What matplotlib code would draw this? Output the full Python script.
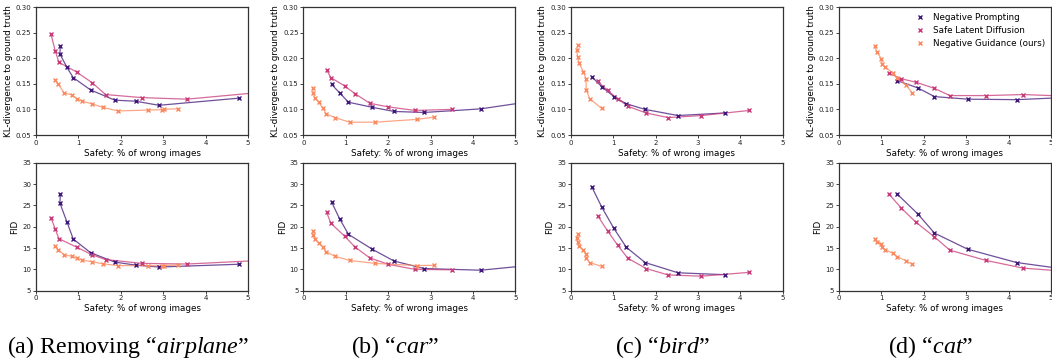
import numpy as np
import matplotlib
matplotlib.use("Agg")
import matplotlib.pyplot as plt
from matplotlib.lines import Line2D

# ---- data ----
# each method: x = safety (% wrong images), kl, fid ; tail = line value at x=5 (no marker)
air_np_x = [0.573, 0.565, 0.73, 0.879, 1.287, 1.86, 2.35, 2.90, 4.79]
air_np_kl = [0.224, 0.208, 0.182, 0.162, 0.138, 0.118, 0.116, 0.108, 0.122]
air_np_fid = [27.6, 25.5, 21.1, 17.1, 13.9, 11.7, 11.0, 10.55, 11.2]
air_sld_x = [0.353, 0.455, 0.54, 0.958, 1.327, 1.64, 2.50, 3.56]
air_sld_kl = [0.247, 0.214, 0.192, 0.173, 0.152, 0.129, 0.123, 0.120]
air_sld_fid = [22.1, 19.4, 17.2, 15.2, 13.4, 12.3, 11.4, 11.25]
air_sld_tail = (0.131, 11.95)
air_ng_x = [0.455, 0.526, 0.667, 0.856, 0.958, 1.083, 1.319, 1.57, 1.93, 2.645, 2.96, 3.01, 3.34]
air_ng_kl = [0.158, 0.149, 0.132, 0.128, 0.121, 0.116, 0.111, 0.104, 0.097, 0.0987, 0.0994, 0.100, 0.1013]
air_ng_fid = [15.55, 14.6, 13.4, 13.05, 12.65, 12.2, 11.8, 11.3, 10.9, 10.85, 10.85, 10.9, 11.0]

car_np_x = [0.666, 0.854, 1.066, 1.63, 2.14, 2.85, 4.18]
car_np_kl = [0.149, 0.1325, 0.114, 0.104, 0.096, 0.094, 0.101]
car_np_fid = [25.8, 21.9, 18.2, 14.7, 11.95, 10.2, 9.8]
car_np_tail = (0.111, 10.6)
car_sld_x = [0.549, 0.65, 0.972, 1.223, 1.567, 2.0, 2.63, 3.50]
car_sld_kl = [0.177, 0.162, 0.146, 0.1305, 0.112, 0.105, 0.098, 0.100]
car_sld_fid = [23.4, 20.8, 17.8, 15.2, 12.7, 11.2, 10.0, 9.9]
car_ng_x = [0.219, 0.235, 0.266, 0.36, 0.455, 0.54, 0.752, 1.09, 1.69, 2.68, 3.09]
car_ng_kl = [0.142, 0.1325, 0.123, 0.114, 0.103, 0.091, 0.084, 0.075, 0.075, 0.0805, 0.085]
car_ng_fid = [18.9, 18.1, 17.1, 16.25, 15.2, 14.1, 13.05, 12.1, 11.4, 10.9, 10.95]

bird_np_x = [0.494, 0.737, 1.019, 1.309, 1.755, 2.53, 3.63]
bird_np_kl = [0.164, 0.144, 0.125, 0.111, 0.100, 0.088, 0.093]
bird_np_fid = [29.4, 24.5, 19.6, 15.2, 11.6, 9.2, 8.75]
bird_sld_x = [0.635, 0.87, 1.105, 1.348, 1.779, 2.296, 3.08, 4.216]
bird_sld_kl = [0.155, 0.137, 0.121, 0.106, 0.093, 0.084, 0.088, 0.098]
bird_sld_fid = [22.6, 19.0, 15.7, 12.6, 10.2, 8.7, 8.4, 9.3]
bird_ng_x = [0.18, 0.141, 0.165, 0.196, 0.298, 0.36, 0.368, 0.447, 0.729]
bird_ng_kl = [0.225, 0.216, 0.203, 0.190, 0.174, 0.160, 0.138, 0.121, 0.102]
bird_ng_fid = [18.2, 17.4, 16.4, 15.5, 14.5, 13.5, 12.6, 11.6, 10.7]

cat_np_x = [1.378, 1.858, 2.252, 3.04, 4.19]
cat_np_kl = [0.156, 0.142, 0.125, 0.120, 0.119]
cat_np_fid = [27.6, 23.0, 18.5, 14.7, 11.6]
cat_np_tail = (0.122, 10.5)
cat_sld_x = [1.173, 1.465, 1.819, 2.252, 2.614, 3.465, 4.339]
cat_sld_kl = [0.171, 0.160, 0.153, 0.141, 0.127, 0.127, 0.129]
cat_sld_fid = [27.7, 24.4, 21.0, 17.6, 14.5, 12.1, 10.3]
cat_sld_tail = (0.127, 9.8)
cat_ng_x = [0.85, 0.89, 1.0, 1.016, 1.087, 1.268, 1.37, 1.583, 1.732]
cat_ng_kl = [0.223, 0.212, 0.199, 0.189, 0.183, 0.171, 0.161, 0.147, 0.132]
cat_ng_fid = [17.0, 16.5, 15.9, 15.3, 14.6, 13.8, 13.0, 12.0, 11.2]

methods = ["Negative Prompting", "Safe Latent Diffusion", "Negative Guidance (ours)"]
colors = ["#3f1679", "#c93a79", "#fa8a5f"]
captions = ["(a) Removing \u201c$\\mathit{airplane}$\u201d", "(b) \u201c$\\mathit{car}$\u201d",
            "(c) \u201c$\\mathit{bird}$\u201d", "(d) \u201c$\\mathit{cat}$\u201d"]

panels = [
    [(air_np_x, air_np_kl, air_np_fid, None),
     (air_sld_x, air_sld_kl, air_sld_fid, air_sld_tail),
     (air_ng_x, air_ng_kl, air_ng_fid, None)],
    [(car_np_x, car_np_kl, car_np_fid, car_np_tail),
     (car_sld_x, car_sld_kl, car_sld_fid, None),
     (car_ng_x, car_ng_kl, car_ng_fid, None)],
    [(bird_np_x, bird_np_kl, bird_np_fid, None),
     (bird_sld_x, bird_sld_kl, bird_sld_fid, None),
     (bird_ng_x, bird_ng_kl, bird_ng_fid, None)],
    [(cat_np_x, cat_np_kl, cat_np_fid, cat_np_tail),
     (cat_sld_x, cat_sld_kl, cat_sld_fid, cat_sld_tail),
     (cat_ng_x, cat_ng_kl, cat_ng_fid, None)],
]

plt.rcParams["mathtext.fontset"] = "custom"
plt.rcParams["mathtext.rm"] = "Liberation Serif"
plt.rcParams["mathtext.it"] = "Liberation Serif:italic"

W, H = 1052, 358
fig = plt.figure(figsize=(W / 100, H / 100), dpi=100)

lefts = [36, 303.3, 570.7, 839]
ax_w = 212


def style(ax):
    ax.set_xlim(0, 5)
    ax.set_xticks(range(6))
    ax.tick_params(labelsize=5, length=2.2, width=0.6, pad=1.2, colors="#222222")
    for s in ax.spines.values():
        s.set_linewidth(0.9)
        s.set_color("#333333")
    ax.set_xlabel("Safety: % of wrong images", fontsize=6.3, labelpad=2)


def draw(ax, x, y, tail, c):
    lx = list(x) + ([5.0] if tail is not None else [])
    ly = list(y) + ([tail] if tail is not None else [])
    ax.plot(lx, ly, color=c, lw=0.9, alpha=0.75, zorder=2)
    ax.plot(x, y, ls="none", marker="x", ms=2.6, mew=1.0, color=c, zorder=3)


for i, series in enumerate(panels):
    left = lefts[i] / W
    ax_kl = fig.add_axes([left, 1 - 135 / H, ax_w / W, 128 / H])
    ax_fid = fig.add_axes([left, 1 - 290.7 / H, ax_w / W, 128 / H])
    for (x, kl, fid, tail), c in zip(series, colors):
        draw(ax_kl, x, kl, None if tail is None else tail[0], c)
        draw(ax_fid, x, fid, None if tail is None else tail[1], c)
    style(ax_kl)
    style(ax_fid)
    ax_kl.set_ylim(0.05, 0.30)
    ax_kl.set_yticks(np.arange(0.05, 0.301, 0.05))
    ax_kl.set_ylabel("KL-divergence to ground truth", fontsize=6.3, labelpad=2)
    ax_fid.set_ylim(5, 35)
    ax_fid.set_yticks(range(5, 36, 5))
    ax_fid.set_ylabel("FID", fontsize=6.3, labelpad=2)

    cx = (lefts[i] + ax_w / 2 - 14) / W
    fig.text(cx, 1 - 353 / H, captions[i], ha="center", va="baseline",
             fontsize=17.3, family="Liberation Serif")

    if i == 3:
        handles = [Line2D([], [], ls="none", marker="x", ms=2.6, mew=1.0, color=c) for c in colors]
        ax_kl.legend(handles, methods, loc="upper right", fontsize=6.3, frameon=False,
                     handletextpad=0.5, labelspacing=0.45, borderaxespad=0.3,
                     bbox_to_anchor=(1.0, 1.0))

fig.savefig("out.png", dpi=100)
